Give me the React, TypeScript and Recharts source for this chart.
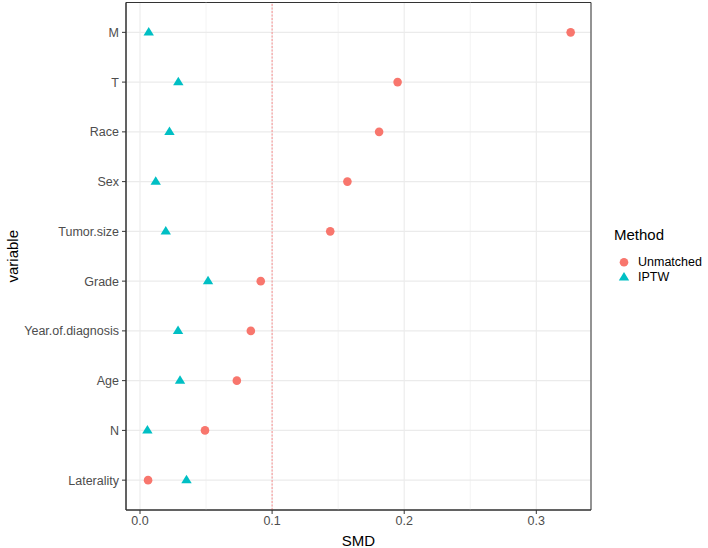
import React from "react";
import {
  ScatterChart,
  Scatter,
  XAxis,
  YAxis,
  CartesianGrid,
  ReferenceLine,
  ReferenceArea,
  Legend,
  Label,
} from "recharts";

// Variables from top to bottom
const variables = [
  "M",
  "T",
  "Race",
  "Sex",
  "Tumor.size",
  "Grade",
  "Year.of.diagnosis",
  "Age",
  "N",
  "Laterality",
];
const unmatchedSMD = [0.326, 0.195, 0.181, 0.157, 0.144, 0.0914, 0.0839, 0.0733, 0.0492, 0.0061];
const iptwSMD = [0.0066, 0.029, 0.0223, 0.0119, 0.0195, 0.0515, 0.0288, 0.0303, 0.0056, 0.0352];
const xTicks = [0, 0.1, 0.2, 0.3];
const xMinorTicks = [0.05, 0.15, 0.25];
const threshold = 0.1;
const seriesNames = ["Unmatched", "IPTW"];
const legendTitle = "Method";

const n = variables.length;
const yTicks = variables.map((_, i) => n - i);
const unmatchedData = variables.map((v, i) => ({ variable: v, y: n - i, x: unmatchedSMD[i] }));
const iptwData = variables.map((v, i) => ({ variable: v, y: n - i, x: iptwSMD[i] }));

const RED = "#F8766D";
const CYAN = "#00BFC4";
const FONT = "'Liberation Sans', Arial, sans-serif";

const X_DOMAIN: [number, number] = [-0.0106, 0.3414];
const Y_DOMAIN: [number, number] = [0.4, 10.6];

const CircleShape = (props: any) => (
  <circle cx={props.cx} cy={props.cy} r={4.3} fill={RED} />
);
const TriangleShape = (props: any) => {
  const { cx, cy } = props;
  const pts = `${cx},${cy - 5.4} ${cx - 5.2},${cy + 3.1} ${cx + 5.2},${cy + 3.1}`;
  return <polygon points={pts} fill={CYAN} />;
};

const LegendContent = (props: any) => {
  const payload = [...(props.payload || [])].sort(
    (a: any, b: any) => seriesNames.indexOf(a.value) - seriesNames.indexOf(b.value)
  );
  return (
    <div style={{ fontFamily: FONT }}>
      <div style={{ fontSize: 15, color: "#000", lineHeight: "18px", marginBottom: 11 }}>{legendTitle}</div>
      {payload.map((entry: any, i: number) => (
        <div key={i} style={{ display: "flex", alignItems: "center", height: 14.5 }}>
          <svg width={20} height={14.5} style={{ display: "block" }}>
            {entry.type === "triangle" ? (
              <polygon points="10,1.9 4.8,10.4 15.2,10.4" fill={entry.color} />
            ) : (
              <circle cx={10} cy={7.25} r={4.3} fill={entry.color} />
            )}
          </svg>
          <span style={{ fontSize: 12.5, color: "#000", marginLeft: 4 }}>{entry.value}</span>
        </div>
      ))}
    </div>
  );
};

export default function App() {
  return (
    <div style={{ position: "absolute", left: 0, top: 0, width: 708, height: 548, background: "#fff" }}>
      <ScatterChart
        width={708}
        height={548}
        margin={{ top: 2.5, right: 117, bottom: 0, left: 0 }}
        style={{ fontFamily: FONT }}
      >
        {xMinorTicks.map((t) => (
          <ReferenceLine key={t} x={t} stroke="#ebebeb" strokeWidth={0.6} />
        ))}
        <CartesianGrid stroke="#ebebeb" strokeWidth={1.1} />
        <XAxis
          type="number"
          dataKey="x"
          domain={X_DOMAIN}
          allowDataOverflow
          ticks={xTicks}
          tickFormatter={(v: number) => v.toFixed(1)}
          height={38}
          tick={{ fill: "#4d4d4d", fontSize: 12.5 }}
          tickLine={{ stroke: "#333" }}
          axisLine={{ stroke: "#333" }}
          tickSize={4}
          tickMargin={2}
        >
          <Label
            content={(p: any) => {
              const vb = p.viewBox;
              return (
                <text
                  x={vb.x + vb.width / 2}
                  y={vb.y + 30}
                  textAnchor="middle"
                  dominantBaseline="central"
                  fontSize={15}
                  fill="#000"
                  fontFamily={FONT}
                >
                  SMD
                </text>
              );
            }}
          />
        </XAxis>
        <YAxis
          type="number"
          dataKey="y"
          domain={Y_DOMAIN}
          allowDataOverflow
          ticks={yTicks}
          interval={0}
          tickFormatter={(v: number) => variables[n - v]}
          width={126}
          tick={{ fill: "#4d4d4d", fontSize: 12.5 }}
          tickLine={{ stroke: "#333" }}
          axisLine={{ stroke: "#333" }}
          tickSize={4}
          tickMargin={3}
        >
          <Label
            content={(p: any) => {
              const vb = p.viewBox;
              const cx = 12;
              const cy = vb.y + vb.height / 2;
              return (
                <text
                  x={cx}
                  y={cy}
                  transform={`rotate(-90 ${cx} ${cy})`}
                  textAnchor="middle"
                  dominantBaseline="central"
                  fontSize={15}
                  fill="#000"
                  fontFamily={FONT}
                >
                  variable
                </text>
              );
            }}
          />
        </YAxis>
        <ReferenceLine x={threshold} stroke="#ff4d4d" strokeWidth={0.6} strokeDasharray="2 1.5" />
        <ReferenceArea
          x1={X_DOMAIN[0]}
          x2={X_DOMAIN[1]}
          y1={Y_DOMAIN[0]}
          y2={Y_DOMAIN[1]}
          fill="none"
          stroke="#333"
          strokeWidth={1}
          ifOverflow="visible"
        />
        <Scatter
          name={seriesNames[0]}
          data={unmatchedData}
          fill={RED}
          legendType="circle"
          shape={CircleShape}
          isAnimationActive={false}
        />
        <Scatter
          name={seriesNames[1]}
          data={iptwData}
          fill={CYAN}
          legendType="triangle"
          shape={TriangleShape}
          isAnimationActive={false}
        />
        <Legend
          layout="vertical"
          align="center"
          verticalAlign="middle"
          content={LegendContent}
          wrapperStyle={{ left: 614, top: 226, width: 94 }}
        />
      </ScatterChart>
    </div>
  );
}
